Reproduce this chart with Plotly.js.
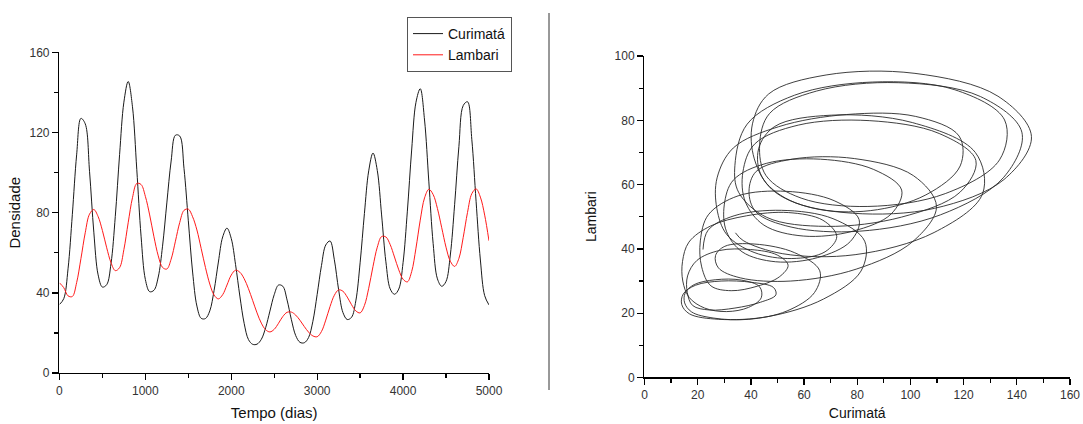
<!DOCTYPE html>
<html>
<head>
<meta charset="utf-8">
<script src="https://cdn.plot.ly/plotly-3.0.1.min.js"></script>
<style>
  html, body { margin: 0; padding: 0; background: #fff; }
  #chart { width: 1083px; height: 424px; }
</style>
</head>
<body>
<div id="chart"></div>
<script>
// Tempo (dias) - left panel
const tempo = [0,50,100,150,200,250,300,350,400,450,500,550,600,650,700,750,800,850,900,950,
  1000,1050,1100,1150,1200,1250,1300,1350,1400,1450,1500,1550,1600,1650,1700,1750,1800,1850,1900,1950,
  2000,2050,2100,2150,2200,2250,2300,2350,2400,2450,2500,2550,2600,2650,2700,2750,2800,2850,2900,2950,
  3000,3050,3100,3150,3200,3250,3300,3350,3400,3450,3500,3550,3600,3650,3700,3750,3800,3850,3900,3950,
  4000,4050,4100,4150,4200,4250,4300,4350,4400,4450,4500,4550,4600,4650,4700,4750,4800,4850,4900,4950,5000];

// Densidade de Curimatá
const curimata = [34.2,37.1,52.0,79.2,108.9,127.1,124.4,100.7,70.3,49.0,42.9,44.1,54.6,78.2,109.0,135.2,145.5,132.9,101.7,68.3,
  46.7,40.6,41.3,47.9,63.3,84.9,105.8,118.7,118.3,102.0,76.0,50.4,33.4,27.3,27.2,31.0,41.2,55.4,67.9,72.3,
  67.1,54.1,38.4,24.8,16.7,14.3,14.4,16.8,22.6,30.9,39.1,43.9,43.3,36.4,26.6,18.7,15.3,15.1,17.7,25.8,
  39.2,53.6,63.9,65.9,56.5,41.5,30.2,26.7,27.8,36.0,55.0,79.6,100.9,109.8,101.1,78.9,55.5,42.0,39.3,41.9,
  55.1,80.8,111.3,135.1,141.9,126.3,95.4,64.7,47.0,43.3,45.7,58.9,84.0,113.1,133.5,135.4,116.7,85.7,56.4,38.6,34.0];

// Densidade de Lambari
const lambari = [45.0,42.6,38.5,38.2,45.1,57.1,70.0,79.3,81.6,78.1,71.1,62.5,55.1,51.1,52.6,61.6,75.0,87.5,94.6,94.1,
  88.2,78.9,68.0,58.5,52.7,51.9,56.8,65.8,75.1,81.2,81.8,78.0,71.4,62.1,52.6,44.4,38.9,37.0,39.1,43.9,
  48.9,51.3,50.3,47.1,42.1,36.1,30.0,24.9,21.6,20.5,21.8,24.8,28.2,30.3,30.4,28.9,26.3,23.2,20.4,18.5,
  18.1,20.7,26.4,33.2,38.8,41.5,40.8,37.9,34.1,31.0,30.0,33.7,42.3,53.2,62.8,68.1,67.9,64.1,57.9,51.5,
  46.8,45.5,50.6,62.3,76.3,87.4,91.7,89.1,82.1,72.5,62.8,55.8,53.2,57.2,67.7,80.1,89.5,91.9,87.8,78.8,66.0];

// Further loops seen only in the phase portrait (right panel), continuing after day 5000
const tempoExt = [5050,5100,5150,5200,5250,5300,5350,5400,5450,5500,5550,5600,5650,5700,5750,5800,5850,5900,5950,6000,
  6050,6100,6150,6200,6250,6300,6350,6400,6450,6500,6550,6600,6650,6700,6750,6800,6850,6900,6950,7000,
  7050,7100,7150,7200,7250,7300,7350,7400,7450,7500,7550,7600,7650,7700,7750,7800,7850,7900,7950,8000,
  8050,8100,8150,8200,8250,8300,8350];
const curimataExt = [35.4,46.0,68.5,96.7,118.6,124.6,110.8,84.5,57.8,41.4,37.0,37.9,44.9,59.7,78.3,92.8,96.7,86.2,66.2,45.8,
  33.4,30.0,30.8,36.7,49.3,65.1,77.4,80.7,71.3,53.4,35.2,24.0,21.0,21.5,25.0,32.6,42.4,50.7,54.0,49.9,
  39.9,28.2,19.7,16.2,16.1,18.1,24.4,34.0,43.6,49.4,48.5,40.3,28.8,19.2,14.6,14.0,16.9,27.9,46.8,67.3,
  81.4,82.8,70.9,51.5,33.7,23.9,22.0];
const lambariExt = [57.6,49.8,47.0,49.9,57.6,67.5,75.9,79.9,78.5,72.6,63.9,54.7,47.4,44.0,45.5,50.9,58.3,64.7,67.9,66.6,
  61.4,53.7,45.5,39.1,36.0,37.3,42.3,49.1,55.0,57.9,56.5,50.6,42.5,34.4,28.5,27.0,28.4,31.3,34.9,38.1,
  39.8,39.5,36.4,31.6,26.4,22.4,21.0,21.6,23.4,25.7,28.0,29.6,30.0,28.7,26.0,22.7,19.8,18.1,19.0,24.4,
  33.1,42.4,49.4,52.0,50.3,45.8,39.8];

const seriesNames = ['Curimatá', 'Lambari'];
const xTitleLeft = 'Tempo (dias)';
const yTitleLeft = 'Densidade';
const xTitleRight = 'Curimatá';
const yTitleRight = 'Lambari';

const FONT = 'Liberation Sans, Arial, Helvetica, sans-serif';

const faseX = curimata.concat(curimataExt);
const faseY = lambari.concat(lambariExt);

const traces = [
  { x: tempo, y: curimata, name: seriesNames[0], type: 'scatter', mode: 'lines',
    line: { color: '#1a1a1a', width: 1, shape: 'spline', smoothing: 1 }, xaxis: 'x', yaxis: 'y' },
  { x: tempo, y: lambari, name: seriesNames[1], type: 'scatter', mode: 'lines',
    line: { color: '#ff1a1a', width: 1, shape: 'spline', smoothing: 1 }, xaxis: 'x', yaxis: 'y' },
  { x: faseX, y: faseY, name: 'fase', type: 'scatter', mode: 'lines', showlegend: false,
    line: { color: '#2a2a2a', width: 0.9, shape: 'spline', smoothing: 1 }, xaxis: 'x2', yaxis: 'y2' }
];

function axisBase(extra) {
  return Object.assign({
    showline: true, linecolor: '#000', linewidth: 1.5,
    ticks: 'outside', ticklen: 6, tickwidth: 1.3, tickcolor: '#000',
    showgrid: false, zeroline: false, fixedrange: true,
    ticklabeloverflow: 'allow',
    tickfont: { family: FONT, size: 12, color: '#333' }
  }, extra);
}

const layout = {
  width: 1083, height: 424,
  margin: { l: 0, r: 0, t: 0, b: 0 },
  paper_bgcolor: '#fff', plot_bgcolor: '#fff',
  font: { family: FONT, color: '#333' },
  showlegend: true,
  xaxis: axisBase({
    domain: [0.0549, 0.4515], range: [0, 5000], dtick: 1000, tick0: 0, anchor: 'y',
    minor: { dtick: 500, ticks: 'outside', ticklen: 4, tickwidth: 1.3, tickcolor: '#000', showgrid: false },
    title: { text: xTitleLeft, font: { family: FONT, size: 15, color: '#111' }, standoff: 10 }
  }),
  yaxis: axisBase({
    domain: [0.1203, 0.8762], range: [0, 160], dtick: 40, tick0: 0, anchor: 'x',
    minor: { dtick: 20, ticks: 'outside', ticklen: 4, tickwidth: 1.3, tickcolor: '#000', showgrid: false },
    title: { text: yTitleLeft, font: { family: FONT, size: 15, color: '#111' }, standoff: 5 }
  }),
  xaxis2: axisBase({
    domain: [0.5951, 0.9880], range: [0, 160], dtick: 20, tick0: 0, anchor: 'y2',
    minor: { dtick: 10, ticks: 'outside', ticklen: 4, tickwidth: 1.3, tickcolor: '#000', showgrid: false },
    title: { text: xTitleRight, font: { family: FONT, size: 14, color: '#111' }, standoff: 7 }
  }),
  yaxis2: axisBase({
    domain: [0.1097, 0.8679], range: [0, 100], dtick: 20, tick0: 0, anchor: 'x2',
    minor: { dtick: 10, ticks: 'outside', ticklen: 4, tickwidth: 1.3, tickcolor: '#000', showgrid: false },
    title: { text: yTitleRight, font: { family: FONT, size: 14, color: '#111' }, standoff: 14 }
  }),
  legend: {
    x: 407 / 1083, y: 1 - 17 / 424, xanchor: 'left', yanchor: 'top',
    bgcolor: '#fff', bordercolor: '#555', borderwidth: 1,
    font: { family: FONT, size: 14, color: '#111' },
    tracegroupgap: 0
  },
  shapes: [{
    type: 'line', xref: 'paper', yref: 'paper',
    x0: 549 / 1083, x1: 549 / 1083, y0: 1 - 13 / 424, y1: 1 - 390 / 424,
    line: { color: '#333', width: 1 }
  }]
};

Plotly.newPlot('chart', traces, layout, { staticPlot: true, displayModeBar: false });
</script>
</body>
</html>
